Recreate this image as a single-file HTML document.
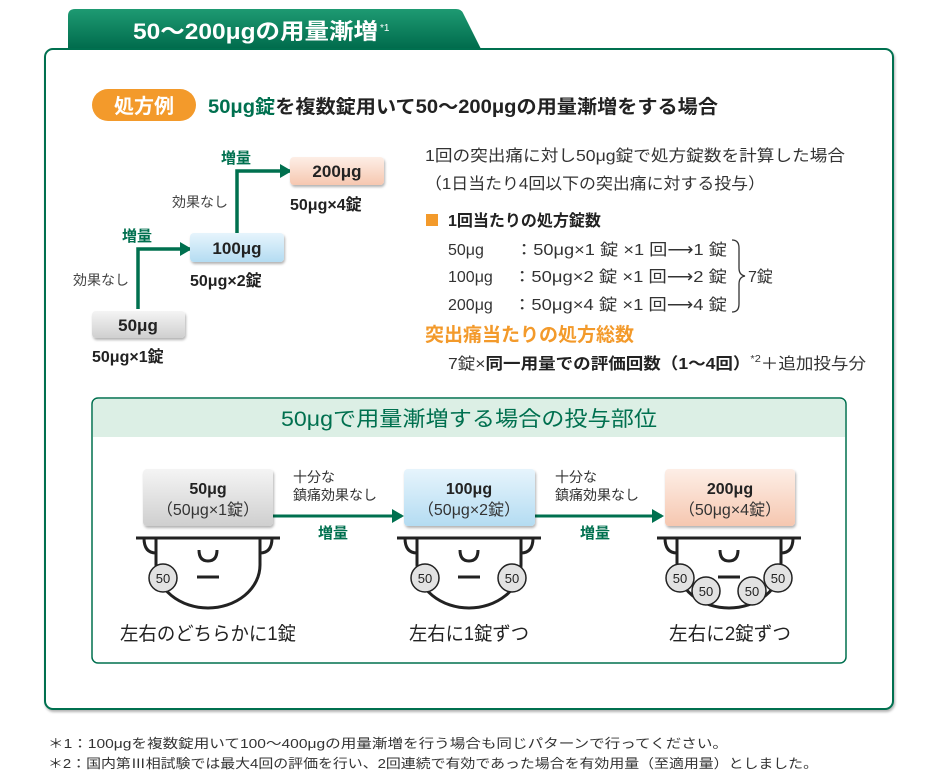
<!DOCTYPE html>
<html><head><meta charset="utf-8"><style>
html,body{margin:0;padding:0;background:#fff;}
svg{display:block;font-family:"Liberation Sans","Noto Sans CJK JP",sans-serif;}
</style></head><body>
<svg width="931" height="783" viewBox="0 0 931 783" xmlns="http://www.w3.org/2000/svg">
<defs>
<linearGradient id="tab" x1="0" y1="0" x2="0" y2="1"><stop offset="0" stop-color="#1e9a72"/><stop offset="1" stop-color="#006b4c"/></linearGradient>
<linearGradient id="gray" x1="0" y1="0" x2="0" y2="1"><stop offset="0" stop-color="#f4f4f4"/><stop offset="1" stop-color="#cfcfcf"/></linearGradient>
<linearGradient id="blue" x1="0" y1="0" x2="0" y2="1"><stop offset="0" stop-color="#e6f4fc"/><stop offset="1" stop-color="#b4dcf2"/></linearGradient>
<linearGradient id="pink" x1="0" y1="0" x2="0" y2="1"><stop offset="0" stop-color="#fdeee6"/><stop offset="1" stop-color="#f6c7b0"/></linearGradient>
<marker id="ah" markerWidth="12" markerHeight="14" refX="10" refY="7" orient="auto" markerUnits="userSpaceOnUse"><path d="M0,0 L12,7 L0,14 Z" fill="#00704f"/></marker>
<filter id="sh" x="-10%" y="-10%" width="130%" height="140%"><feDropShadow dx="1" dy="2" stdDeviation="1.2" flood-color="#000" flood-opacity="0.3"/></filter>
</defs>

<path d="M68,49 L68,16 Q68,9 75,9 L456,9 Q461,9 463,13 L481,49 Z" fill="url(#tab)"/>
<text x="133" y="39" font-size="22" font-weight="bold" fill="#fff" textLength="245" lengthAdjust="spacingAndGlyphs">50〜200μgの用量漸増</text>
<text x="380" y="31" font-size="10" fill="#fff">*1</text>

<rect x="45" y="49" width="848" height="660" rx="8" fill="#fff" stroke="#00704f" stroke-width="2" filter="url(#sh)"/>

<rect x="92" y="89" width="104" height="32" rx="16" fill="#f39a2b"/>
<text x="144" y="113" font-size="20" font-weight="bold" fill="#fff" text-anchor="middle">処方例</text>
<text x="208" y="113" font-size="19" font-weight="bold" fill="#222" textLength="510" lengthAdjust="spacingAndGlyphs"><tspan fill="#00704f">50μg錠</tspan>を複数錠用いて50〜200μgの用量漸増をする場合</text>

<path d="M138,309 L138,249 L190,249" fill="none" stroke="#00704f" stroke-width="3.5" marker-end="url(#ah)"/>
<path d="M237,233 L237,171 L290,171" fill="none" stroke="#00704f" stroke-width="3.5" marker-end="url(#ah)"/>
<text x="122" y="241" font-size="15" font-weight="bold" fill="#00704f">増量</text>
<text x="221" y="163" font-size="15" font-weight="bold" fill="#00704f">増量</text>
<text x="73" y="285" font-size="14" fill="#444">効果なし</text>
<text x="172" y="207" font-size="14" fill="#444">効果なし</text>

<rect x="92" y="311" width="93" height="27" rx="4" fill="url(#gray)" filter="url(#sh)"/>
<text x="138" y="331" font-size="17" font-weight="bold" fill="#222" text-anchor="middle">50μg</text>
<text x="92" y="362" font-size="16" font-weight="bold" fill="#222">50μg×1錠</text>

<rect x="190" y="233" width="94" height="29" rx="4" fill="url(#blue)" filter="url(#sh)"/>
<text x="237" y="254" font-size="17" font-weight="bold" fill="#222" text-anchor="middle">100μg</text>
<text x="190" y="286" font-size="16" font-weight="bold" fill="#222">50μg×2錠</text>

<rect x="290" y="157" width="94" height="28" rx="4" fill="url(#pink)" filter="url(#sh)"/>
<text x="337" y="177" font-size="17" font-weight="bold" fill="#222" text-anchor="middle">200μg</text>
<text x="290" y="210" font-size="16" font-weight="bold" fill="#222">50μg×4錠</text>

<text x="425" y="161" font-size="16" fill="#333" textLength="420" lengthAdjust="spacingAndGlyphs">1回の突出痛に対し50μg錠で処方錠数を計算した場合</text>
<text x="425" y="189" font-size="16" fill="#333" textLength="340" lengthAdjust="spacingAndGlyphs">（1日当たり4回以下の突出痛に対する投与）</text>
<rect x="426" y="214" width="12" height="12" fill="#f39a2b"/>
<text x="448" y="226" font-size="16" font-weight="bold" fill="#222">1回当たりの処方錠数</text>
<text x="448" y="255" font-size="16" fill="#333">50μg</text>
<text x="515" y="255" font-size="16" fill="#333" textLength="212" lengthAdjust="spacingAndGlyphs">：50μg×1 錠 ×1 回⟶1 錠</text>
<text x="448" y="282" font-size="16" fill="#333">100μg</text>
<text x="513" y="282" font-size="16" fill="#333" textLength="214" lengthAdjust="spacingAndGlyphs">：50μg×2 錠 ×1 回⟶2 錠</text>
<text x="448" y="310" font-size="16" fill="#333">200μg</text>
<text x="513" y="310" font-size="16" fill="#333" textLength="214" lengthAdjust="spacingAndGlyphs">：50μg×4 錠 ×1 回⟶4 錠</text>
<path d="M732,240 Q739,240 739,248 L739,268 Q739,275 745,276 Q739,277 739,284 L739,304 Q739,312 732,312" fill="none" stroke="#333" stroke-width="1.3"/>
<text x="748" y="282" font-size="16" fill="#333">7錠</text>
<text x="425" y="341" font-size="19" font-weight="bold" fill="#f39a2b">突出痛当たりの処方総数</text>
<text x="448" y="369" font-size="16" fill="#333" textLength="418" lengthAdjust="spacingAndGlyphs">7錠×<tspan font-weight="bold" fill="#222">同一用量での評価回数（1〜4回）</tspan><tspan font-size="10" dy="-7">*2</tspan><tspan dy="7">＋追加投与分</tspan></text>

<rect x="92" y="398" width="754" height="265" rx="6" fill="#fff" stroke="#00704f" stroke-width="1.5"/>
<path d="M93,437 L93,404 Q93,399 98,399 L840,399 Q845,399 845,404 L845,437 Z" fill="#dcefe5"/>
<text x="469" y="426" font-size="21" fill="#00704f" text-anchor="middle" textLength="376" lengthAdjust="spacingAndGlyphs">50μgで用量漸増する場合の投与部位</text>

<line x1="273" y1="516" x2="402" y2="516" stroke="#00704f" stroke-width="3" marker-end="url(#ah)"/>
<line x1="535" y1="516" x2="662" y2="516" stroke="#00704f" stroke-width="3" marker-end="url(#ah)"/>
<text x="293" y="482" font-size="14" fill="#333">十分な</text>
<text x="293" y="500" font-size="14" fill="#333">鎮痛効果なし</text>
<text x="318" y="538" font-size="15" font-weight="bold" fill="#00704f">増量</text>
<text x="555" y="482" font-size="14" fill="#333">十分な</text>
<text x="555" y="500" font-size="14" fill="#333">鎮痛効果なし</text>
<text x="580" y="538" font-size="15" font-weight="bold" fill="#00704f">増量</text>

<rect x="143" y="469" width="130" height="57" rx="4" fill="url(#gray)" filter="url(#sh)"/>
<text x="208" y="494" font-size="16" font-weight="bold" fill="#222" text-anchor="middle">50μg</text>
<text x="208" y="515" font-size="16" fill="#333" text-anchor="middle">（50μg×1錠）</text>
<rect x="404" y="469" width="131" height="57" rx="4" fill="url(#blue)" filter="url(#sh)"/>
<text x="469" y="494" font-size="16" font-weight="bold" fill="#222" text-anchor="middle">100μg</text>
<text x="469" y="515" font-size="16" fill="#333" text-anchor="middle">（50μg×2錠）</text>
<rect x="665" y="469" width="130" height="57" rx="4" fill="url(#pink)" filter="url(#sh)"/>
<text x="730" y="494" font-size="16" font-weight="bold" fill="#222" text-anchor="middle">200μg</text>
<text x="730" y="515" font-size="16" fill="#333" text-anchor="middle">（50μg×4錠）</text>

<g fill="none" stroke="#222" stroke-width="3">
  <g transform="translate(208,0)">
    <line x1="-72" y1="538" x2="72" y2="538"/>
    <path d="M-52,538 L-52,565 A52,43 0 0 0 52,565 L52,538"/>
    <path d="M-64,538 Q-64,553 -52,553"/>
    <path d="M64,538 Q64,553 52,553"/>
    <path d="M-9,550 Q-9,561 0,561 Q9,561 9,550"/>
    <line x1="-11" y1="577" x2="11" y2="577"/>
  </g>
  <g transform="translate(469,0)">
    <line x1="-72" y1="538" x2="72" y2="538"/>
    <path d="M-52,538 L-52,565 A52,43 0 0 0 52,565 L52,538"/>
    <path d="M-64,538 Q-64,553 -52,553"/>
    <path d="M64,538 Q64,553 52,553"/>
    <path d="M-9,550 Q-9,561 0,561 Q9,561 9,550"/>
    <line x1="-11" y1="577" x2="11" y2="577"/>
  </g>
  <g transform="translate(729,0)">
    <line x1="-72" y1="538" x2="72" y2="538"/>
    <path d="M-52,538 L-52,565 A52,43 0 0 0 52,565 L52,538"/>
    <path d="M-64,538 Q-64,553 -52,553"/>
    <path d="M64,538 Q64,553 52,553"/>
    <path d="M-9,550 Q-9,561 0,561 Q9,561 9,550"/>
    <line x1="-11" y1="577" x2="11" y2="577"/>
  </g>
</g>
<g stroke="#222" stroke-width="1.5" fill="#e2e2e2">
  <circle cx="163" cy="578" r="14"/>
  <circle cx="425" cy="578" r="14"/>
  <circle cx="512" cy="578" r="14"/>
  <circle cx="680" cy="578" r="14"/>
  <circle cx="778" cy="578" r="14"/>
  <circle cx="706" cy="591" r="14"/>
  <circle cx="752" cy="591" r="14"/>
</g>
<g font-size="13" fill="#222" text-anchor="middle">
  <text x="163" y="583">50</text>
  <text x="425" y="583">50</text>
  <text x="512" y="583">50</text>
  <text x="680" y="583">50</text>
  <text x="778" y="583">50</text>
  <text x="706" y="596">50</text>
  <text x="752" y="596">50</text>
</g>

<text x="208" y="640" font-size="19" fill="#222" text-anchor="middle" textLength="176" lengthAdjust="spacingAndGlyphs">左右のどちらかに1錠</text>
<text x="469" y="640" font-size="19" fill="#222" text-anchor="middle" textLength="120" lengthAdjust="spacingAndGlyphs">左右に1錠ずつ</text>
<text x="730" y="640" font-size="19" fill="#222" text-anchor="middle" textLength="122" lengthAdjust="spacingAndGlyphs">左右に2錠ずつ</text>

<text x="48" y="748" font-size="13" fill="#333" textLength="680" lengthAdjust="spacingAndGlyphs">＊1：100μgを複数錠用いて100〜400μgの用量漸増を行う場合も同じパターンで行ってください。</text>
<text x="48" y="768" font-size="13" fill="#333" textLength="770" lengthAdjust="spacingAndGlyphs">＊2：国内第Ⅲ相試験では最大4回の評価を行い、2回連続で有効であった場合を有効用量（至適用量）としました。</text>
</svg>
</body></html>
